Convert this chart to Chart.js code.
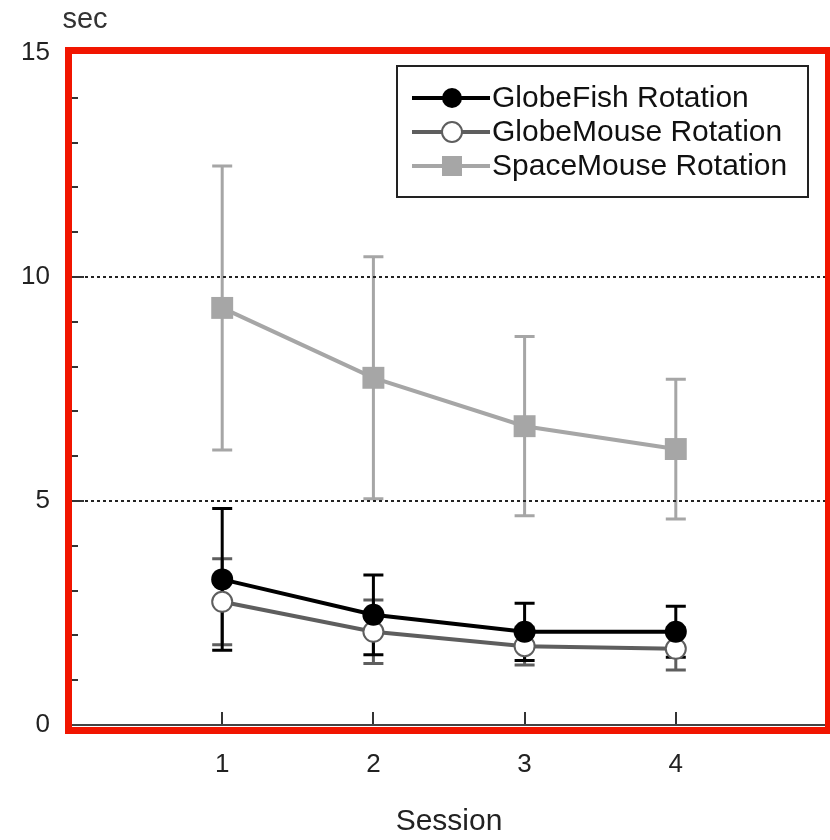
<!DOCTYPE html>
<html lang="en">
	<head>
		<meta charset="utf-8" />
		<title>Rotation time per session</title>
		<script src="https://cdn.jsdelivr.net/npm/chart.js@4"></script>
		<style>
			html, body { margin: 0; padding: 0; background: #fff; overflow: hidden; }
			#wrap { width: 830px; height: 840px; }
			canvas { display: block; }
		</style>
	</head>

	<body>
		<div id="wrap"><canvas id="myChart" width="830" height="840"></canvas></div>

		<script>
			// data
			var sessions = [1, 2, 3, 4];
			var xTicks = [1, 2, 3, 4];
			var yTicks = [0, 5, 10, 15];
			var yGridLines = [5, 10];

			var globeFishMean = [3.25, 2.46, 2.08, 2.08];
			var globeFishErr = [1.58, 0.89, 0.64, 0.57];
			var globeMouseMean = [2.75, 2.08, 1.76, 1.70];
			var globeMouseErr = [0.96, 0.71, 0.42, 0.47];
			var spaceMouseMean = [9.31, 7.75, 6.67, 6.16];
			var spaceMouseErr = [3.17, 2.70, 2.0, 1.56];

			var FONT = "'Liberation Sans', Arial, sans-serif";
			Chart.defaults.font.family = FONT;

			function points(xs, ys) {
				return xs.map(function (x, i) { return { x: x, y: ys[i] }; });
			}

			var errors = [globeFishErr, globeMouseErr, spaceMouseErr];

			// error bars, drawn under the lines and markers
			var errorBars = {
				id: "errorBars",
				beforeDatasetsDraw: function (chart) {
					var ctx = chart.ctx;
					var xs = chart.scales.x, ys = chart.scales.y;
					ctx.save();
					for (var d = chart.data.datasets.length - 1; d >= 0; d--) {
						var ds = chart.data.datasets[d];
						ctx.strokeStyle = ds.borderColor;
						ctx.lineWidth = 3;
						ds.data.forEach(function (p, i) {
							var e = errors[d][i];
							var px = xs.getPixelForValue(p.x);
							var top = ys.getPixelForValue(p.y + e);
							var bot = ys.getPixelForValue(p.y - e);
							ctx.beginPath();
							ctx.moveTo(px, top); ctx.lineTo(px, bot);
							ctx.moveTo(px - 10, top); ctx.lineTo(px + 10, top);
							ctx.moveTo(px - 10, bot); ctx.lineTo(px + 10, bot);
							ctx.stroke();
						});
					}
					ctx.restore();
				},
			};

			// dotted grid, inner tick marks, frame, legend, red border, "sec"
			var decor = {
				id: "decor",
				beforeDatasetsDraw: function (chart) {
					var ctx = chart.ctx, a = chart.chartArea;
					var xs = chart.scales.x, ys = chart.scales.y;
					ctx.save();
					ctx.strokeStyle = "#222";
					ctx.lineWidth = 2;
					ctx.setLineDash([3, 3]);
					yGridLines.forEach(function (v) {
						var py = Math.round(ys.getPixelForValue(v));
						ctx.beginPath();
						ctx.moveTo(a.left + 14, py); ctx.lineTo(a.right, py);
						ctx.stroke();
					});
					ctx.setLineDash([]);
					ctx.strokeStyle = "#333";
					for (var v = 1; v < 15; v++) {
						var py = Math.round(ys.getPixelForValue(v));
						ctx.beginPath();
						ctx.moveTo(a.left, py);
						ctx.lineTo(a.left + (v % 5 === 0 ? 13 : 7), py);
						ctx.stroke();
					}
					xTicks.forEach(function (t) {
						var px = Math.round(xs.getPixelForValue(t));
						ctx.beginPath();
						ctx.moveTo(px, a.bottom); ctx.lineTo(px, a.bottom - 13);
						ctx.stroke();
					});
					ctx.strokeStyle = "#444";
					ctx.strokeRect(a.left, a.top, a.right - a.left - 1, a.bottom - a.top);
					ctx.restore();
				},
				afterDraw: function (chart) {
					var ctx = chart.ctx, a = chart.chartArea;
					ctx.save();

					// legend
					var bx = 397, by = 66, bw = 411, bh = 131;
					ctx.fillStyle = "#fff";
					ctx.fillRect(bx, by, bw, bh);
					ctx.strokeStyle = "#222";
					ctx.lineWidth = 2;
					ctx.strokeRect(bx, by, bw, bh);
					var rows = [98, 132, 166];
					chart.data.datasets.forEach(function (ds, i) {
						var y = rows[i];
						ctx.strokeStyle = ds.borderColor;
						ctx.lineWidth = 4;
						ctx.beginPath();
						ctx.moveTo(412, y); ctx.lineTo(490, y);
						ctx.stroke();
						ctx.fillStyle = ds.pointBackgroundColor;
						ctx.strokeStyle = ds.pointBorderColor;
						ctx.lineWidth = ds.pointBorderWidth;
						ctx.beginPath();
						if (ds.pointStyle === "rect") {
							ctx.rect(452 - 10, y - 10, 20, 20);
						} else {
							ctx.arc(452, y, 10, 0, Math.PI * 2);
						}
						ctx.fill();
						if (ds.pointBorderWidth) ctx.stroke();
						ctx.fillStyle = "#111";
						ctx.font = "30px " + FONT;
						ctx.textBaseline = "middle";
						ctx.textAlign = "left";
						ctx.fillText(ds.label, 492, y + 1);
					});

					// red highlight frame
					ctx.strokeStyle = "#f11500";
					ctx.lineWidth = 7;
					ctx.strokeRect(a.left - 2.5, a.top - 2.5, a.right - a.left + 4, a.bottom - a.top + 8);

					// unit label
					ctx.fillStyle = "#333";
					ctx.font = "29px " + FONT;
					ctx.textAlign = "center";
					ctx.textBaseline = "middle";
					ctx.fillText("sec", 85, 20);
					ctx.restore();
				},
			};

			var ctx = document.getElementById("myChart").getContext("2d");
			var myChart = new Chart(ctx, {
				type: "line",
				data: {
					datasets: [
						{
							label: "GlobeFish Rotation",
							data: points(sessions, globeFishMean),
							borderColor: "#000",
							borderWidth: 4,
							pointStyle: "circle",
							pointRadius: 11,
							pointBackgroundColor: "#000",
							pointBorderColor: "#000",
							pointBorderWidth: 0,
						},
						{
							label: "GlobeMouse Rotation",
							data: points(sessions, globeMouseMean),
							borderColor: "#5e5e5e",
							borderWidth: 4,
							pointStyle: "circle",
							pointRadius: 10,
							pointBackgroundColor: "#fff",
							pointBorderColor: "#5e5e5e",
							pointBorderWidth: 2,
						},
						{
							label: "SpaceMouse Rotation",
							data: points(sessions, spaceMouseMean),
							borderColor: "#a6a6a6",
							borderWidth: 4,
							pointStyle: "rect",
							pointRadius: 15.5,
							pointBackgroundColor: "#a6a6a6",
							pointBorderColor: "#a6a6a6",
							pointBorderWidth: 0,
						},
					],
				},
				options: {
					responsive: false,
					animation: false,
					layout: { autoPadding: false, padding: { top: 53, right: 3, left: 0, bottom: 0 } },
					plugins: {
						legend: { display: false },
						tooltip: { enabled: false },
					},
					elements: { line: { tension: 0 } },
					scales: {
						x: {
							type: "linear",
							min: 0,
							max: 5,
							afterBuildTicks: function (scale) {
								scale.ticks = xTicks.map(function (v) { return { value: v }; });
							},
							afterFit: function (scale) {
								scale.height = 115;
								scale.paddingLeft = 0;
								scale.paddingRight = 0;
							},
							grid: { display: false, drawTicks: false },
							border: { display: false },
							ticks: { padding: 24, color: "#222", font: { size: 26 } },
							title: {
								display: true,
								text: "Session",
								color: "#222",
								font: { size: 30 },
								padding: { top: 0, bottom: 0 },
							},
						},
						y: {
							min: 0,
							max: 15,
							afterBuildTicks: function (scale) {
								scale.ticks = yTicks.map(function (v) { return { value: v }; });
							},
							afterFit: function (scale) {
								scale.width = 71;
								scale.paddingTop = 0;
								scale.paddingBottom = 0;
							},
							grid: { display: false, drawTicks: false },
							border: { display: false },
							ticks: { padding: 21, color: "#222", font: { size: 26 } },
						},
					},
				},
				plugins: [errorBars, decor],
			});
		</script>
	</body>
</html>
